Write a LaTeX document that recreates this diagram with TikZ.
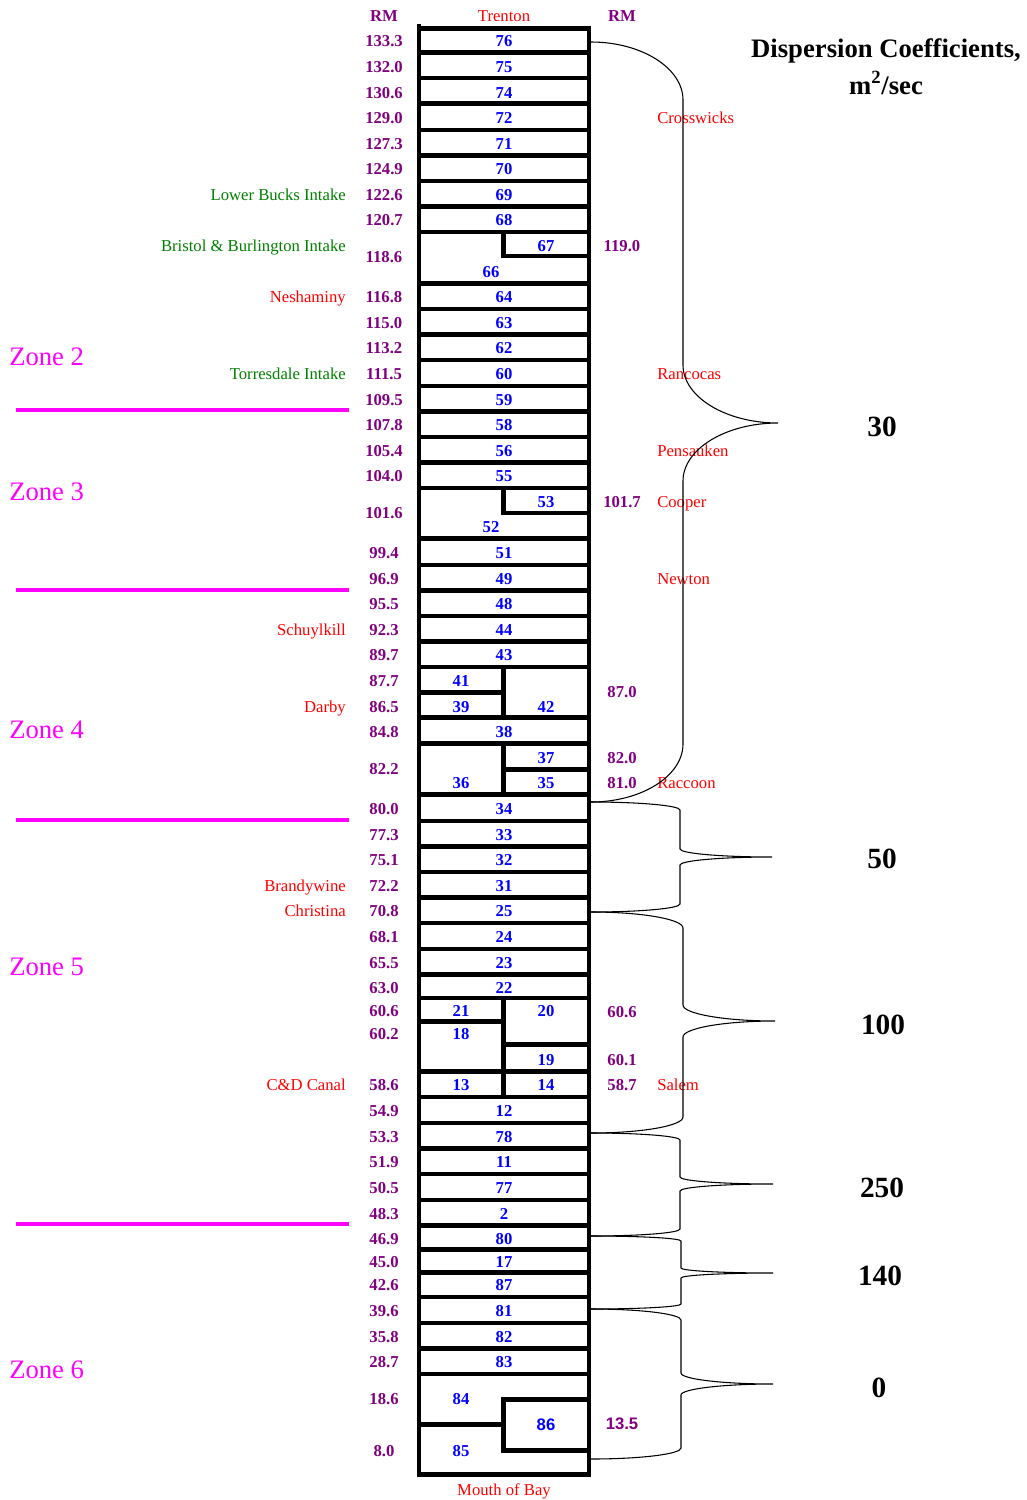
\documentclass[tikz,border=0pt]{standalone}
\usepackage{fontspec}
\setmainfont{Liberation Serif}
\newfontfamily\sansfam{Liberation Sans}
\definecolor{rmpurple}{RGB}{128,0,128}
\definecolor{cellblue}{RGB}{0,0,255}
\definecolor{tribred}{RGB}{255,0,0}
\definecolor{intakegreen}{RGB}{0,128,0}
\definecolor{zonemag}{RGB}{255,0,255}
\newcommand{\dispbrace}[6]{%
  \draw[bracecurve] (591,#1) .. controls ({591+0.55*(#4-591)},#1) and (#4,{#1+0.45*#6}) .. (#4,{#1+#6})
    -- (#4,{#2-#6}) .. controls (#4,{#2-0.45*#6}) and ({#5-0.55*(#5-#4)},#2) .. (#5,#2)
    .. controls ({#5-0.55*(#5-#4)},#2) and (#4,{#2+0.45*#6}) .. (#4,{#2+#6})
    -- (#4,{#3-#6}) .. controls (#4,{#3-0.45*#6}) and ({591+0.55*(#4-591)},#3) .. (591,#3);}
\begin{document}
\begin{tikzpicture}[x=0.75pt,y=-0.75pt,
  txtbase/.style={inner sep=0pt, text height=8.5pt, text depth=0pt, yshift=-0.75pt},
  cellnum/.style={txtbase, text=cellblue, font=\bfseries\fontsize{12.5}{15}\selectfont},
  rmnum/.style={txtbase, text=rmpurple, font=\bfseries\fontsize{12.5}{15}\selectfont},
  trib/.style={txtbase, text=tribred, font=\fontsize{12.5}{15}\selectfont},
  intake/.style={txtbase, text=intakegreen, font=\fontsize{12.5}{15}\selectfont},
  zonelbl/.style={inner sep=0pt, text height=13.5pt, text depth=0pt, text=zonemag, font=\fontsize{20}{24}\selectfont, anchor=west},
  coef/.style={inner sep=0pt, text height=15pt, text depth=0pt, font=\bfseries\fontsize{22}{26}\selectfont},
  titletxt/.style={inner sep=0pt, text height=13.5pt, text depth=0pt, font=\bfseries\fontsize{20}{24}\selectfont},
  cellwall/.style={line width=3.4pt},
  zoneline/.style={draw=zonemag, line width=3pt},
  bracecurve/.style={line width=0.8pt}
]
\useasboundingbox (0,0) rectangle (1026,1500);

% ---- column frame ----
\draw[cellwall] (419,28.5) rectangle (589,1474.5);
\draw[cellwall] (419,24) -- (419,28.5);
\foreach \y in {52.5,78,103.5,130,155.5,181,206.5,232,283.5,309,334.5,360,386,411.5,437,462.5,488,538.5,565,590.5,616,641.5,667,717.5,743.5,794.5,821,846.5,872,897.5,923,949,974.5,998,1071.5,1097,1123,1148.5,1174,1200,1225.5,1249.5,1272.5,1297,1323,1348.5,1374}
  \draw[cellwall] (419,\y) -- (589,\y);
% partial walls
\draw[cellwall] (503.5,232) -- (503.5,256) -- (589,256);
\draw[cellwall] (503.5,488) -- (503.5,513) -- (589,513);
\draw[cellwall] (503.5,667) -- (503.5,719);
\draw[cellwall] (419,692.5) -- (503.5,692.5);
\draw[cellwall] (503.5,743.5) -- (503.5,796);
\draw[cellwall] (503.5,769.5) -- (589,769.5);
\draw[cellwall] (503.5,998) -- (503.5,1099);
\draw[cellwall] (419,1021.5) -- (503.5,1021.5);
\draw[cellwall] (503.5,1044.5) -- (589,1044.5);
\draw[cellwall] (419,1424.5) -- (503.5,1424.5);
\draw[cellwall] (589,1399.5) -- (503.5,1399.5) -- (503.5,1450.5) -- (589,1450.5);

% ---- cell numbers ----
\foreach \n/\y in {76/40,75/66,74/92,72/117,71/143,70/168,69/194,68/219,64/296,63/322,62/347,60/373,59/399,58/424,56/450,55/475,51/552,49/578,48/603,44/629,43/654,38/731,34/808,33/834,32/859,31/885,25/910,24/936,23/962,22/987,12/1110,78/1136,11/1161,77/1187,2/1213,80/1238,17/1261,87/1284,81/1310,82/1336,83/1361}
  \node[cellnum] (c\n) at (504,\y) {\n};
\foreach \n/\x/\y in {67/546/245,66/491/271,53/546/501,52/491/526,41/461/680,39/461/706,42/546/706,37/546/757,36/461/782,35/546/782,21/461/1010,20/546/1010,18/461/1033,19/546/1059,13/461/1084,14/546/1084,84/461/1398,85/461/1450}
  \node[cellnum] (c\n) at (\x,\y) {\n};
\node[cellnum, font=\sansfam\bfseries\fontsize{12.5}{15}\selectfont] (c86) at (546,1424) {86};

% ---- river mile labels ----
\node[rmnum] (rmhL) at (384,15) {RM};
\node[rmnum] (rmhR) at (622,15) {RM};
\foreach \v/\y [count=\i] in {133.3/40,132.0/66,130.6/92,129.0/117,127.3/143,124.9/168,122.6/194,120.7/219,118.6/256,116.8/296,115.0/322,113.2/347,111.5/373,109.5/399,107.8/424,105.4/450,104.0/475,101.6/512,99.4/552,96.9/578,95.5/603,92.3/629,89.7/654,87.7/680,86.5/706,84.8/731,82.2/768,80.0/808,77.3/834,75.1/859,72.2/885,70.8/910,68.1/936,65.5/962,63.0/987,60.6/1010,60.2/1033,58.6/1084,54.9/1110,53.3/1136,51.9/1161,50.5/1187,48.3/1213,46.9/1238,45.0/1261,42.6/1284,39.6/1310,35.8/1336,28.7/1361,18.6/1398,8.0/1450}
  \node[rmnum] (rmL\i) at (384,\y) {\v};
\foreach \v/\y [count=\i] in {119.0/245,101.7/501,87.0/691,82.0/757,81.0/782,60.6/1011,60.1/1059,58.7/1084}
  \node[rmnum] (rmR\i) at (622,\y) {\v};
\node[rmnum, font=\sansfam\bfseries\fontsize{12.5}{15}\selectfont] (rmR9) at (622,1423) {13.5};

% ---- ends ----
\node[trib] (trenton) at (504,15) {Trenton};
\node[trib] (mouth) at (504,1489) {Mouth of Bay};

% ---- left side labels ----
\node[intake, anchor=east] (lowerbucks) at (346,194) {Lower Bucks Intake};
\node[intake, anchor=east] (bristol) at (346,245) {Bristol \& Burlington Intake};
\node[trib, anchor=east] (neshaminy) at (346,296) {Neshaminy};
\node[intake, anchor=east] (torresdale) at (346,373) {Torresdale Intake};
\node[trib, anchor=east] (schuylkill) at (346,629) {Schuylkill};
\node[trib, anchor=east] (darby) at (346,706) {Darby};
\node[trib, anchor=east] (brandywine) at (346,885) {Brandywine};
\node[trib, anchor=east] (christina) at (346,910) {Christina};
\node[trib, anchor=east] (cdcanal) at (346,1084) {C\&D Canal};

% ---- right side labels ----
\node[trib, anchor=west] (crosswicks) at (657,117) {Crosswicks};
\node[trib, anchor=west] (rancocas) at (657,373) {Rancocas};
\node[trib, anchor=west] (pensauken) at (657,450) {Pensauken};
\node[trib, anchor=west] (cooper) at (657,501) {Cooper};
\node[trib, anchor=west] (newton) at (657,578) {Newton};
\node[trib, anchor=west] (raccoon) at (657,782) {Raccoon};
\node[trib, anchor=west] (salem) at (657,1084) {Salem};

% ---- zones ----
\node[zonelbl] (zone2) at (9,356) {Zone 2};
\node[zonelbl] (zone3) at (9,491) {Zone 3};
\node[zonelbl] (zone4) at (9,729) {Zone 4};
\node[zonelbl] (zone5) at (9,966) {Zone 5};
\node[zonelbl] (zone6) at (9,1369) {Zone 6};
\foreach \y in {410,590,820,1224}
  \draw[zoneline] (16,\y) -- (349,\y);

% ---- dispersion braces ----
\dispbrace{42}{423}{802}{683}{778}{58}
\dispbrace{802}{857}{912}{680}{772}{8}
\dispbrace{912}{1021}{1133}{683}{775}{16}
\dispbrace{1133}{1184}{1236}{680}{773}{7}
\dispbrace{1236}{1273}{1309}{681}{773}{5}
\dispbrace{1309}{1384}{1459}{681}{773}{11}

% ---- title and coefficients ----
\node[titletxt] (title1) at (886,48) {Dispersion Coefficients,};
\node[titletxt] (title2) at (886,85) {m\textsuperscript{2}/sec};
\node[coef] (k30) at (882,426) {30};
\node[coef] (k50) at (882,858) {50};
\node[coef] (k100) at (883,1024) {100};
\node[coef] (k250) at (882,1187) {250};
\node[coef] (k140) at (880,1275) {140};
\node[coef] (k0) at (879,1387) {0};
\end{tikzpicture}
\end{document}
